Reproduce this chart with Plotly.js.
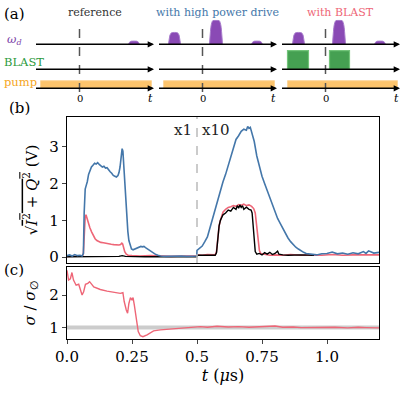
<!DOCTYPE html>
<html><head><meta charset="utf-8">
<script src="https://cdn.plot.ly/plotly-3.0.1.min.js"></script>
<style>html,body{margin:0;padding:0;background:#fff}</style>
</head><body><div id="g" style="width:402px;height:393px"></div>
<script>
// ---------- panel (b): sqrt(I^2+Q^2) (V), values for t>0.5 shown x10 ----------
const tBlue = [0.000,0.010,0.020,0.030,0.040,0.050,0.058,0.063,0.066,0.070,0.074,0.078,0.083,0.088,0.094,0.100,0.106,0.112,0.118,0.124,0.130,0.136,0.142,0.148,0.154,0.160,0.166,0.172,0.178,0.184,0.190,0.196,0.200,0.204,0.208,0.212,0.215,0.218,0.222,0.226,0.230,0.234,0.238,0.243,0.248,0.254,0.260,0.266,0.272,0.278,0.284,0.290,0.296,0.302,0.310,0.318,0.326,0.334,0.342,0.350,0.360,0.380,0.400,0.420,0.440,0.460,0.480,0.499,
  0.500,0.510,0.520,0.530,0.540,0.550,0.560,0.570,0.580,0.590,0.600,0.610,0.620,0.630,0.640,0.650,0.660,0.670,0.680,0.690,0.695,0.700,0.705,0.710,0.720,0.730,0.740,0.750,0.760,0.770,0.780,0.790,0.800,0.810,0.820,0.830,0.840,0.850,0.860,0.870,0.880,0.890,0.900,0.910,0.920,0.940,0.960,0.980,1.000,1.020,1.040,1.060,1.080,1.100,1.120,1.140,1.150,1.160,1.180,1.200];
const vBlue = [0.04,0.06,0.03,0.07,0.04,0.05,0.03,0.10,1.20,1.85,1.95,2.05,2.25,2.35,2.45,2.50,2.55,2.53,2.57,2.52,2.48,2.45,2.47,2.42,2.43,2.36,2.32,2.28,2.22,2.20,2.18,2.22,2.30,2.45,2.70,2.95,2.88,2.50,2.00,1.55,1.05,0.70,0.45,0.30,0.22,0.20,0.22,0.23,0.27,0.28,0.29,0.28,0.29,0.26,0.22,0.17,0.13,0.10,0.07,0.05,0.03,0.02,0.03,0.02,0.03,0.02,0.03,0.03,
  0.18,0.25,0.30,0.42,0.55,0.80,1.05,1.35,1.60,1.85,2.05,2.25,2.50,2.75,2.95,3.20,3.30,3.42,3.48,3.45,3.55,3.50,3.53,3.40,3.15,2.75,2.45,2.20,2.00,1.80,1.60,1.42,1.25,1.05,0.92,0.78,0.65,0.52,0.42,0.33,0.27,0.22,0.17,0.13,0.10,0.08,0.06,0.09,0.10,0.14,0.09,0.11,0.08,0.12,0.09,0.15,0.10,0.17,0.11,0.13];

const tRed = [0.000,0.020,0.040,0.060,0.063,0.066,0.070,0.073,0.077,0.082,0.088,0.095,0.102,0.108,0.115,0.122,0.130,0.140,0.150,0.160,0.170,0.180,0.190,0.200,0.206,0.211,0.214,0.218,0.222,0.228,0.235,0.250,0.280,0.320,0.360,0.400,0.450,0.499,
  0.500,0.520,0.540,0.560,0.570,0.575,0.580,0.585,0.590,0.595,0.600,0.610,0.620,0.630,0.640,0.650,0.660,0.670,0.680,0.690,0.700,0.710,0.718,0.724,0.728,0.732,0.736,0.740,0.745,0.760,0.780,0.800,0.830,0.860,0.900,0.940,0.980,1.020,1.060,1.100,1.150,1.200];
const vRed = [0.02,0.03,0.02,0.03,0.10,0.80,1.10,1.15,1.05,0.92,0.80,0.68,0.57,0.50,0.45,0.42,0.40,0.39,0.37,0.36,0.35,0.34,0.33,0.33,0.34,0.38,0.36,0.25,0.15,0.08,0.05,0.04,0.03,0.04,0.03,0.02,0.03,0.03,
  0.06,0.05,0.07,0.05,0.06,0.15,0.55,0.85,1.00,1.15,1.22,1.30,1.35,1.37,1.40,1.38,1.43,1.41,1.44,1.40,1.42,1.38,1.32,1.20,0.90,0.60,0.35,0.18,0.10,0.07,0.05,0.06,0.05,0.07,0.05,0.06,0.05,0.07,0.05,0.06,0.05,0.06];

const tBlack = [0.000,0.100,0.200,0.212,0.225,0.300,0.400,0.499,
  0.500,0.540,0.570,0.575,0.580,0.585,0.590,0.600,0.610,0.620,0.630,0.640,0.650,0.655,0.660,0.665,0.670,0.675,0.680,0.690,0.700,0.708,0.712,0.716,0.720,0.724,0.730,0.740,0.750,0.760,0.770,0.780,0.790,0.800,0.810,0.815,0.830,0.850,0.900,0.950];
const vBlack = [0.01,0.01,0.02,0.04,0.02,0.01,0.01,0.01,
  0.05,0.04,0.05,0.12,0.60,0.85,1.00,1.15,1.20,1.28,1.25,1.35,1.30,1.40,1.33,1.42,1.35,1.40,1.30,1.36,1.30,1.28,1.20,0.90,0.40,0.15,0.08,0.10,0.06,0.12,0.08,0.13,0.07,0.10,0.16,0.08,0.06,0.05,0.06,0.05];

// ---------- panel (c): sigma / sigma_empty ----------
const tSig = [0.000,0.006,0.013,0.019,0.025,0.035,0.045,0.051,0.058,0.064,0.071,0.080,0.087,0.103,0.128,0.154,0.179,0.205,0.215,0.220,0.228,0.233,0.238,0.244,0.250,0.254,0.259,0.267,0.274,0.282,0.292,0.308,0.333,0.359,0.410,0.462,0.513,0.540,0.577,0.620,0.660,0.700,0.740,0.768,0.800,0.830,0.870,0.900,0.950,1.000,1.030,1.080,1.120,1.150,1.200];
const vSig = [2.76,2.46,2.50,2.69,2.46,2.30,2.33,2.20,2.00,2.10,2.33,2.36,2.41,2.25,2.17,2.12,2.08,2.05,2.07,1.80,1.54,1.44,1.74,1.92,1.84,1.92,1.69,1.24,0.88,0.75,0.72,0.78,0.90,0.93,0.96,0.99,1.03,1.01,1.04,1.02,1.03,1.01,1.02,1.02,1.05,1.01,1.02,1.00,1.01,1.00,1.01,0.99,1.01,1.00,0.99];
const refLevel = 1;

// ---------- panel (a): pulse schematic (arbitrary time units, 0 = dashed line) ----------
const schemeTitles = ["reference", "with high power drive", "with BLAST"];
const driveStart = [[4.9], [-3.4, 0.7, 4.9], [-3.3, 0.7, 4.9]];
const driveEnd   = [[6.0], [-2.2, 2.0, 6.0], [-2.1, 2.0, 6.0]];
const driveAmp   = [[0.13], [0.49, 1.0, 0.13], [0.49, 1.0, 0.13]];
const blastStart = [[], [], [-3.8, 0.4]];
const blastEnd   = [[], [], [-1.7, 2.4]];
const pumpStart  = [-3.9, -3.9, -3.8];
const pumpEnd    = [7.2, 7.2, 7.2];
const rowLabels  = ["<i>ω<sub>d</sub></i>", "BLAST", "pump"];

const W = 402, H = 393;
const px = v => v / W, py = v => 1 - v / H;
const SERIF = "DejaVu Serif";
const BLUE = "#4477AA", RED = "#EE6677";

const traces = [];
traces.push({x: tRed, y: vRed, mode: "lines", line: {color: RED, width: 1.6}, xaxis: "x", yaxis: "y", hoverinfo: "skip"});
traces.push({x: tBlack, y: vBlack, mode: "lines", line: {color: "#000", width: 1.4}, xaxis: "x", yaxis: "y", hoverinfo: "skip"});
traces.push({x: tBlue, y: vBlue, mode: "lines", line: {color: BLUE, width: 1.6}, xaxis: "x", yaxis: "y", hoverinfo: "skip"});
traces.push({x: [0, 1.2], y: [refLevel, refLevel], mode: "lines", line: {color: "#cccccc", width: 4}, xaxis: "x2", yaxis: "y2", hoverinfo: "skip"});
traces.push({x: tSig, y: vSig, mode: "lines", line: {color: RED, width: 1.4}, xaxis: "x2", yaxis: "y2", hoverinfo: "skip"});

const xa = ["x3", "x4", "x5"];
for (let p = 0; p < 3; p++) {
  traces.push({x: [pumpStart[p], pumpStart[p], pumpEnd[p], pumpEnd[p], pumpStart[p]], y: [0, 1, 1, 0, 0],
    mode: "lines", fill: "toself", fillcolor: "#fdc46c", line: {color: "#fdd69a", width: 1}, xaxis: xa[p], yaxis: "y5", hoverinfo: "skip"});
  for (let k = 0; k < blastStart[p].length; k++) {
    const a = blastStart[p][k], b = blastEnd[p][k];
    traces.push({x: [a, a, b, b, a], y: [0, 1, 1, 0, 0], mode: "lines", fill: "toself",
      fillcolor: "#45a052", line: {color: "#72c47a", width: 1.2}, xaxis: xa[p], yaxis: "y4", hoverinfo: "skip"});
  }
  for (let k = 0; k < driveStart[p].length; k++) {
    const a = driveStart[p][k], b = driveEnd[p][k], h = driveAmp[p][k];
    const r = Math.min(0.35, (b - a) / 4);
    traces.push({x: [a, a + r * 0.5, a + r, b - r, b - r * 0.5, b], y: [0, h * 0.8, h, h, h * 0.8, 0],
      mode: "lines", line: {color: "#a77bcb", width: 1, shape: "spline", smoothing: 0.6}, fill: "toself", fillcolor: "#8a4ab5",
      xaxis: xa[p], yaxis: "y3", hoverinfo: "skip"});
  }
}

const annotations = [];
const shapes = [];
const dashPx = [79.5, 202.5, 325.5];
const titleColors = ["#333333", BLUE, RED];
const titleCx = [95, 217, 340];
for (let p = 0; p < 3; p++) {
  ["y3", "y4", "y5"].forEach(ya => {
    annotations.push({x: 7.45, y: 0, ax: -4.5, ay: 0, xref: xa[p], yref: ya, axref: xa[p], ayref: ya,
      showarrow: true, arrowhead: 2, arrowsize: 0.9, arrowwidth: 1.4, arrowcolor: "#000", text: ""});
  });
  shapes.push({type: "line", xref: xa[p], yref: "paper", x0: 0, x1: 0, y0: py(92), y1: py(22),
    line: {color: "#555", width: 1.5, dash: "dash"}});
  annotations.push({text: schemeTitles[p], xref: "paper", yref: "paper", x: px(titleCx[p]), y: py(12), showarrow: false,
    xanchor: "center", yanchor: "middle", font: {family: SERIF, size: 11, color: titleColors[p]}});
  annotations.push({text: "0", xref: xa[p], yref: "paper", x: 0, y: py(99), showarrow: false, xanchor: "center", yanchor: "middle",
    font: {family: SERIF, size: 10, color: "#000"}});
  annotations.push({text: "<i>t</i>", xref: xa[p], yref: "paper", x: 7.1, y: py(98), showarrow: false, xanchor: "center", yanchor: "middle",
    font: {family: SERIF, size: 11, color: "#000"}});
}
const rowLabelColors = ["#7b3fa8", "#2c9a3c", "#f5a623"];
const rowLabelY = [39, 62, 82];
const rowLabelX = [5, 2, 2];
rowLabels.forEach((t, i) => annotations.push({text: t, xref: "paper", yref: "paper", x: px(rowLabelX[i]), y: py(rowLabelY[i]),
  showarrow: false, xanchor: "left", yanchor: "middle", font: {family: SERIF, size: 11.5, color: rowLabelColors[i]}}));

[["(a)", 15, 14], ["(b)", 19, 108], ["(c)", 14, 270]].forEach(([t, x, y]) => annotations.push({text: t, xref: "paper", yref: "paper",
  x: px(x), y: py(y), showarrow: false, xanchor: "center", yanchor: "middle", font: {family: SERIF, size: 15, color: "#000"}}));

shapes.push({type: "line", xref: "x", yref: "y domain", x0: 0.5, x1: 0.5, y0: 0, y1: 1, line: {color: "#bbbbbb", width: 1.5, dash: "dash"}});
annotations.push({text: "x1", xref: "x", yref: "paper", x: 0.49, y: py(130), showarrow: false, xanchor: "right", yanchor: "middle",
  font: {family: SERIF, size: 15, color: "#222"}});
annotations.push({text: "x10", xref: "x", yref: "paper", x: 0.51, y: py(130), showarrow: false, xanchor: "left", yanchor: "middle",
  font: {family: SERIF, size: 15, color: "#222"}});

const frame = {showline: true, mirror: true, linecolor: "#000", linewidth: 1.2, zeroline: false, showgrid: false};
const tickf = {family: SERIF, size: 15, color: "#000"};
const layout = {
  width: W, height: H, margin: {l: 0, r: 0, t: 0, b: 0}, showlegend: false,
  paper_bgcolor: "#fff", plot_bgcolor: "rgba(0,0,0,0)",
  font: {family: SERIF},
  xaxis: Object.assign({}, frame, {domain: [px(67), px(379)], range: [0, 1.2], anchor: "y", showticklabels: false, ticks: ""}),
  yaxis: Object.assign({}, frame, {domain: [py(263), py(117)], range: [-0.16, 3.81], anchor: "x", tickvals: [0, 1, 2, 3],
    ticks: "outside", ticklen: 4, tickwidth: 1, tickfont: tickf,
    title: {text: "√<span style=\"text-decoration:overline\"><i>I</i><sup>2</sup> + <i>Q</i><sup>2</sup></span> (V)", font: {family: SERIF, size: 15, color: "#000"}, standoff: 8}}),
  xaxis2: Object.assign({}, frame, {domain: [px(67), px(379)], range: [0, 1.2], anchor: "y2",
    tickvals: [0, 0.25, 0.5, 0.75, 1.0], ticktext: ["0.0", "0.25", "0.5", "0.75", "1.0"], ticks: "outside", ticklen: 4, tickfont: tickf,
    title: {text: "<i>t</i> (<i>μ</i>s)", font: {family: SERIF, size: 16, color: "#000"}, standoff: 3}}),
  yaxis2: Object.assign({}, frame, {domain: [py(339), py(267)], range: [0.65, 2.86], anchor: "x2", tickvals: [1, 2],
    ticks: "outside", ticklen: 4, tickfont: tickf,
    title: {text: "<i>σ</i> / <i>σ</i><sub>∅</sub>", font: {family: SERIF, size: 15, color: "#000"}, standoff: 10}}),
  xaxis3: {domain: [px(dashPx[0] - 45), px(dashPx[0] + 75)], range: [-4.5, 7.5], visible: false, anchor: "free", position: 0},
  xaxis4: {domain: [px(dashPx[1] - 45), px(dashPx[1] + 75)], range: [-4.5, 7.5], visible: false, anchor: "free", position: 0},
  xaxis5: {domain: [px(dashPx[2] - 45), Math.min(1, px(dashPx[2] + 75))], range: [-4.5, 7.5], visible: false, anchor: "free", position: 0},
  yaxis3: {domain: [py(44.3), py(19.7)], range: [0, 1.042], visible: false, anchor: "free", position: 0},
  yaxis4: {domain: [py(69.3), py(49.3)], range: [0, 1.075], visible: false, anchor: "free", position: 0},
  yaxis5: {domain: [py(88.3), py(78.3)], range: [0, 1.316], visible: false, anchor: "free", position: 0},
  annotations: annotations, shapes: shapes
};
Plotly.newPlot("g", traces, layout, {staticPlot: true, displayModeBar: false});
</script></body></html>
